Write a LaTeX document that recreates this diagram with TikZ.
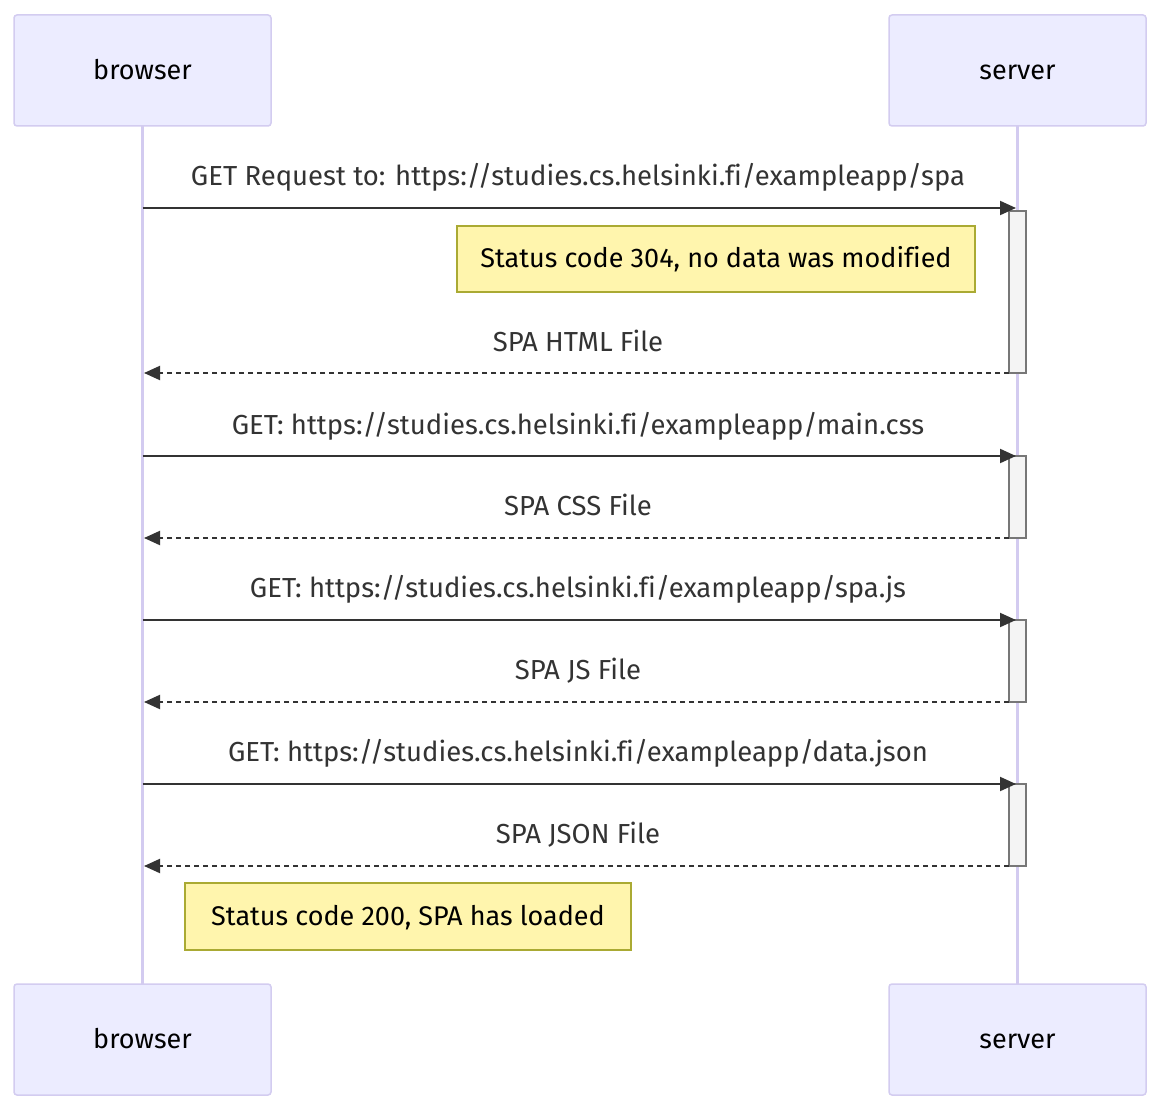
\documentclass[tikz,border=0pt]{standalone}
\usepackage{fontspec}
\setmainfont{Fira Sans}[Ligatures=NoCommon]
\usetikzlibrary{arrows.meta}
\definecolor{actorfill}{HTML}{ECECFF}
\definecolor{actorline}{HTML}{D3CCF0}
\definecolor{lifeline}{HTML}{D3CBF0}
\definecolor{notefill}{HTML}{FFF5AD}
\definecolor{noteline}{HTML}{AAAA33}
\definecolor{msgcol}{HTML}{333333}
\definecolor{actfill}{HTML}{F4F4F4}
\definecolor{actline}{HTML}{777777}
\newcommand{\lblsize}{\fontsize{27.5}{33}\selectfont}
\newcommand{\boxsize}{\fontsize{27}{32}\selectfont}
\tikzset{
  actorbox/.style={draw=actorline, line width=1.5pt, fill=actorfill, rounded corners=3pt,
    minimum width=257pt, minimum height=111pt, inner sep=0pt, font=\boxsize, text=black,
    text height=23pt, text depth=5pt},
  lifeln/.style={draw=lifeline, line width=2.5pt},
  notebox/.style={draw=noteline, line width=1.3pt, fill=notefill, inner sep=0pt, font=\boxsize, text=black,
    text height=23pt, text depth=5pt},
  actbar/.style={draw=actline, line width=1.5pt, fill=actfill},
  msg/.style={draw=msgcol, line width=2pt, -{Triangle[length=16pt,width=14pt]}},
  reply/.style={msg, dash pattern=on 5pt off 4pt},
  msglabel/.style={font=\lblsize, text=msgcol, inner sep=0pt, text height=23pt, text depth=5pt}
}
\begin{document}
\begin{tikzpicture}[x=1pt,y=-1pt]
\useasboundingbox (0,0) rectangle (1162,1110);
\fill[white] (0,0) rectangle (1162,1110);
% lifelines
\coordinate (bt) at (142.5,126);
\coordinate (bb) at (142.5,984);
\coordinate (st) at (1017.5,126);
\coordinate (sb) at (1017.5,984);
\draw[lifeln] (bt) -- (bb);
\draw[lifeln] (st) -- (sb);
% actors
\node[actorbox] (browserTop) at (142.5,70.5) {browser};
\node[actorbox] (serverTop) at (1017.5,70.5) {server};
\node[actorbox] (browserBot) at (142.5,1039.5) {browser};
\node[actorbox] (serverBot) at (1017.5,1039.5) {server};
% activation bars
\draw[actbar] (1009,211) rectangle (1026,373);
\draw[actbar] (1009,456) rectangle (1026,538);
\draw[actbar] (1009,620) rectangle (1026,702);
\draw[actbar] (1009,784) rectangle (1026,866);
% message end points
\coordinate (m1a) at (142.5,208); \coordinate (m1b) at (1016,208);
\coordinate (m2a) at (1009,373);  \coordinate (m2b) at (144,373);
\coordinate (m3a) at (142.5,456); \coordinate (m3b) at (1016,456);
\coordinate (m4a) at (1009,538);  \coordinate (m4b) at (144,538);
\coordinate (m5a) at (142.5,620); \coordinate (m5b) at (1016,620);
\coordinate (m6a) at (1009,702);  \coordinate (m6b) at (144,702);
\coordinate (m7a) at (142.5,784); \coordinate (m7b) at (1016,784);
\coordinate (m8a) at (1009,866);  \coordinate (m8b) at (144,866);
\draw[msg] (m1a) -- (m1b);
\draw[reply] (m2a) -- (m2b);
\draw[msg] (m3a) -- (m3b);
\draw[reply] (m4a) -- (m4b);
\draw[msg] (m5a) -- (m5b);
\draw[reply] (m6a) -- (m6b);
\draw[msg] (m7a) -- (m7b);
\draw[reply] (m8a) -- (m8b);
% labels
\node[msglabel] (l1) at (578,177) {GET Request to: https://studies.cs.helsinki.fi/exampleapp/spa};
\node[msglabel] (l2) at (578,342) {SPA HTML File};
\node[msglabel] (l3) at (578,425) {GET: https://studies.cs.helsinki.fi/exampleapp/main.css};
\node[msglabel] (l4) at (578,506) {SPA CSS File};
\node[msglabel] (l5) at (578,588) {GET: https://studies.cs.helsinki.fi/exampleapp/spa.js};
\node[msglabel] (l6) at (578,670) {SPA JS File};
\node[msglabel] (l7) at (578,752) {GET: https://studies.cs.helsinki.fi/exampleapp/data.json};
\node[msglabel] (l8) at (578,834) {SPA JSON File};
% notes
\node[notebox, minimum width=518pt, minimum height=66pt] (note1) at (716,259) {Status code 304, no data was modified};
\node[notebox, minimum width=446pt, minimum height=67pt] (note2) at (408,916.5) {Status code 200, SPA has loaded};
\end{tikzpicture}
\end{document}
